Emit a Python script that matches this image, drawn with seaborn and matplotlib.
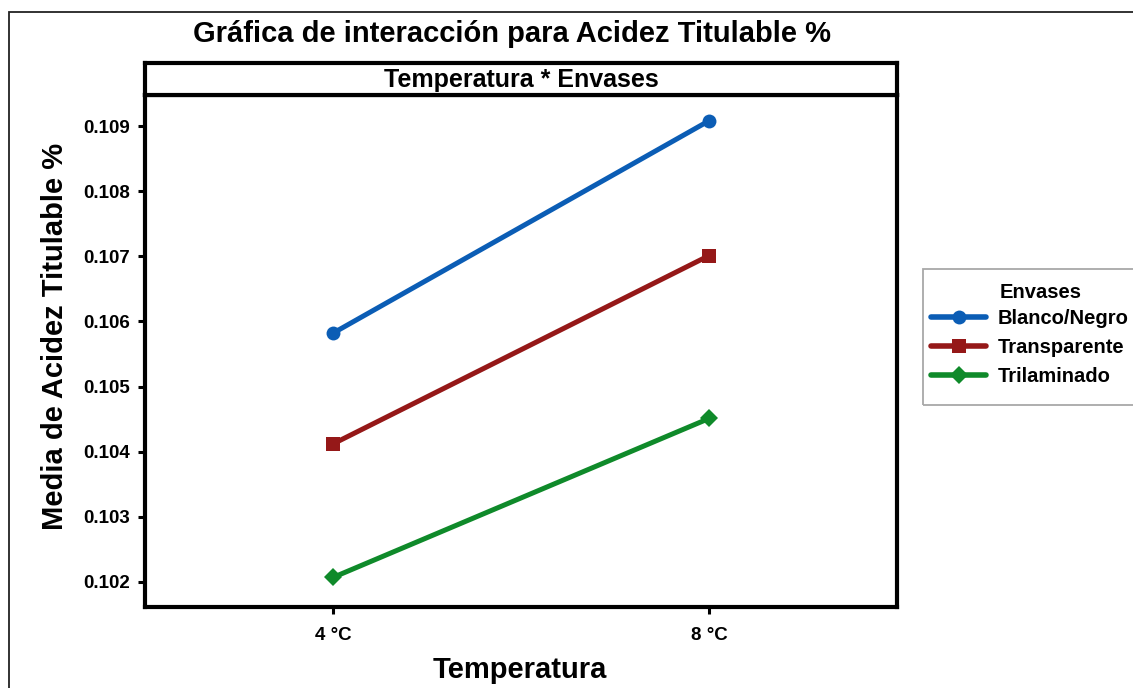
import matplotlib
matplotlib.use("Agg")
import matplotlib.pyplot as plt
import seaborn as sns
import pandas as pd
from matplotlib.patches import Rectangle

# Interaction means: titratable acidity by storage temperature and container type
temperaturas = ["4 °C", "8 °C"]
envases = ["Blanco/Negro", "Transparente", "Trilaminado"]
blanco_negro = [0.10582, 0.10908]
transparente = [0.10412, 0.10701]
trilaminado = [0.10207, 0.10451]
y_ticks = [0.102, 0.103, 0.104, 0.105, 0.106, 0.107, 0.108, 0.109]

colores = {"Blanco/Negro": "#0B5DB5", "Transparente": "#951818", "Trilaminado": "#0F8A2A"}
marcadores = {"Blanco/Negro": "o", "Transparente": "s", "Trilaminado": "D"}

df = pd.DataFrame({
    "Temperatura": temperaturas * 3,
    "Envases": [e for e in envases for _ in temperaturas],
    "Acidez": blanco_negro + transparente + trilaminado,
})

sns.set_theme(style="white")
plt.rcParams["font.family"] = ["Liberation Sans", "DejaVu Sans"]
plt.rcParams["font.weight"] = "bold"
for key in ("text.color", "axes.labelcolor", "xtick.color", "ytick.color"):
    plt.rcParams[key] = "black"

W, H = 1133, 688
fig = plt.figure(figsize=(W / 100, H / 100), dpi=100)
ax = fig.add_axes([145 / W, 81 / H, 752 / W, 512 / H])

sns.lineplot(
    data=df, x="Temperatura", y="Acidez", hue="Envases", style="Envases",
    palette=colores, markers=marcadores, dashes=False, sort=False,
    linewidth=3.6, markersize=10, markeredgewidth=0, ax=ax,
)
for line in ax.lines:
    if line.get_marker() == "D":
        line.set_markersize(9.5)

ax.set_xlim(-0.5, 1.5)
ax.set_ylim(0.101616, 0.109476)
ax.set_yticks(y_ticks)
ax.set_yticklabels([f"{v:.3f}" for v in y_ticks])
ax.tick_params(axis="y", direction="out", length=5, width=2.2, color="black",
               labelsize=13.5, pad=5.5, left=True)
ax.tick_params(axis="x", direction="out", length=5, width=2.2, color="black",
               labelsize=13.5, pad=9.5, bottom=True)
for lab in ax.get_xticklabels() + ax.get_yticklabels():
    lab.set_fontweight("bold")
for sp in ax.spines.values():
    sp.set_visible(True)
    sp.set_linewidth(3)
    sp.set_color("black")
ax.set_xlabel("")
ax.set_ylabel("")

# legend outside the panel, with its own frame and title
leg = ax.legend(
    loc="upper left", bbox_to_anchor=(931 / W, 1 - 309 / H),
    bbox_transform=fig.transFigure, frameon=False,
    fontsize=14.5, handlelength=2.75, handletextpad=0.55,
    borderpad=0, labelspacing=0.5, borderaxespad=0,
)
for t in leg.get_texts():
    t.set_fontweight("bold")
for h in leg.legend_handles:
    h.set_linewidth(4)
fig.text(1000 / W, 1 - 292 / H, "Envases", ha="left", va="center",
         fontsize=14.5, fontweight="bold")
fig.patches.append(Rectangle((923 / W, 1 - 405 / H), 0.3, 136 / H,
                             transform=fig.transFigure, fill=False,
                             edgecolor="#A8A8A8", linewidth=1.3))

# facet strip above the panel
strip = fig.add_axes([145 / W, 593 / H, 752 / W, 32 / H])
strip.set_xticks([])
strip.set_yticks([])
for sp in strip.spines.values():
    sp.set_visible(True)
    sp.set_linewidth(3)
    sp.set_color("black")
strip.text(0.5, 0.47, "Temperatura * Envases", ha="center", va="center",
           fontsize=18, fontweight="bold", transform=strip.transAxes)

fig.text(512 / W, 1 - 34 / H, "Gráfica de interacción para Acidez Titulable %",
         ha="center", va="center", fontsize=21, fontweight="bold")
fig.text(520 / W, 1 - 670 / H, "Temperatura", ha="center", va="center",
         fontsize=21, fontweight="bold")
fig.text(55 / W, 1 - 336 / H, "Media de Acidez Titulable %", ha="center",
         va="center", rotation=90, fontsize=21, fontweight="bold")

# outer frame around the figure
fig.patches.append(Rectangle((9 / W, -0.1), 1.2, 1 - 12 / H + 0.1,
                             transform=fig.transFigure, fill=False,
                             edgecolor="#222222", linewidth=1.3))

fig.savefig("out.png", dpi=100)
